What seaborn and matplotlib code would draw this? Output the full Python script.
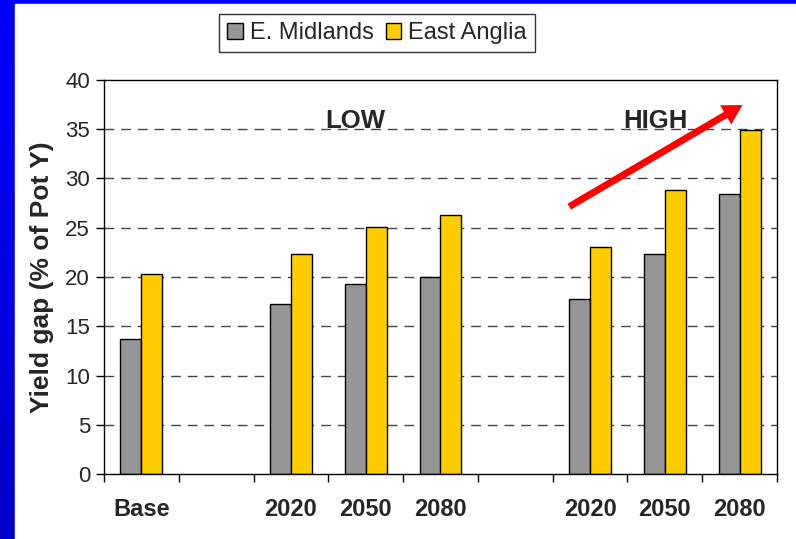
import numpy as np
import pandas as pd
import matplotlib
matplotlib.use("Agg")
import matplotlib.pyplot as plt
from matplotlib.colors import LinearSegmentedColormap
from matplotlib.patches import Rectangle
import seaborn as sns

sns.set_style("white")
plt.rcParams['font.family'] = ['Liberation Sans', 'DejaVu Sans']

# slots along the x axis (two blank spacer slots)
slots = ["Base", "gap1", "Low 2020", "Low 2050", "Low 2080",
         "gap2", "High 2020", "High 2050", "High 2080"]
tick_labels = ["Base", "", "2020", "2050", "2080", "", "2020", "2050", "2080"]

scenarios = ["Base", "Low 2020", "Low 2050", "Low 2080",
             "High 2020", "High 2050", "High 2080"]
e_midlands = [13.7, 17.3, 19.3, 20.0, 17.8, 22.3, 28.4]
east_anglia = [20.3, 22.3, 25.1, 26.3, 23.0, 28.8, 34.9]
regions = ["E. Midlands", "East Anglia"]
colors = ["#969696", "#FFCC00"]

df = pd.DataFrame({
    "slot": scenarios * 2,
    "region": [regions[0]] * len(scenarios) + [regions[1]] * len(scenarios),
    "gap": e_midlands + east_anglia,
})

fig = plt.figure(figsize=(7.96, 5.39), dpi=100)

# blue gradient backdrop with white panel
bg = fig.add_axes([0, 0, 1, 1], zorder=-10)
grad = np.linspace(0, 1, 256).reshape(-1, 1)
cmap = LinearSegmentedColormap.from_list("bl", ["#0000c8", "#0000ff"])
bg.imshow(grad, cmap=cmap, aspect="auto", extent=[0, 1, 0, 1], origin="lower")
bg.add_patch(Rectangle((15 / 796, 0), 1, 1 - 4 / 539, color="white"))
bg.set_xlim(0, 1)
bg.set_ylim(0, 1)
bg.axis("off")

ax = fig.add_axes([104 / 796, 1 - 474 / 539, 673 / 796, 394 / 539])
sns.barplot(data=df, x="slot", y="gap", hue="region", order=slots,
            hue_order=regions, palette=colors, width=0.56, gap=0,
            edgecolor="black", linewidth=1, saturation=1, ax=ax)

ax.set_ylim(0, 40)
ax.set_xlim(-0.5, len(slots) - 0.5)
ax.set_yticks(range(0, 41, 5))
ax.tick_params(axis="y", labelsize=16, length=6, width=1, direction="out",
               left=True, color="black", pad=4)
ax.set_xticks(range(len(slots)))
ax.set_xticklabels(tick_labels, fontsize=17, fontweight="bold")
ax.tick_params(axis="x", which="major", length=0, pad=17)
ax.set_xticks(np.arange(-0.5, len(slots), 1), minor=True)
ax.tick_params(axis="x", which="minor", length=6, width=1, direction="out",
               bottom=True, color="black")
ax.set_xlabel("")
ax.set_ylabel("Yield gap (% of Pot Y)", fontsize=19, fontweight="bold", labelpad=8)

for y in range(5, 40, 5):
    ax.axhline(y, color="#444444", lw=1, ls=(0, (7, 5)), zorder=0)
for s in ax.spines.values():
    s.set_visible(True)
    s.set_color("black")
    s.set_linewidth(1)

ax.text(2.86, 35.8, "LOW", fontsize=18.5, fontweight="bold", ha="center", va="center")
ax.text(6.87, 35.8, "HIGH", fontsize=18.5, fontweight="bold", ha="center", va="center")
ax.annotate("", xy=(8.07, 37.6), xytext=(5.69, 27.0),
            arrowprops=dict(arrowstyle="simple,tail_width=0.25,head_width=0.8,head_length=0.7",
                            mutation_scale=20, color="red", lw=0))

ax.legend_.remove()
handles, labels = ax.get_legend_handles_labels()
leg = fig.legend(handles, labels, loc="center", bbox_to_anchor=(377 / 796, 1 - 33 / 539),
                 ncol=2, fontsize=17, frameon=True, fancybox=False, edgecolor="black",
                 handlelength=0.65, handleheight=0.65, handletextpad=0.3,
                 columnspacing=0.5, borderpad=0.35)
leg.get_frame().set_linewidth(1)

fig.savefig("out.png", dpi=100)
